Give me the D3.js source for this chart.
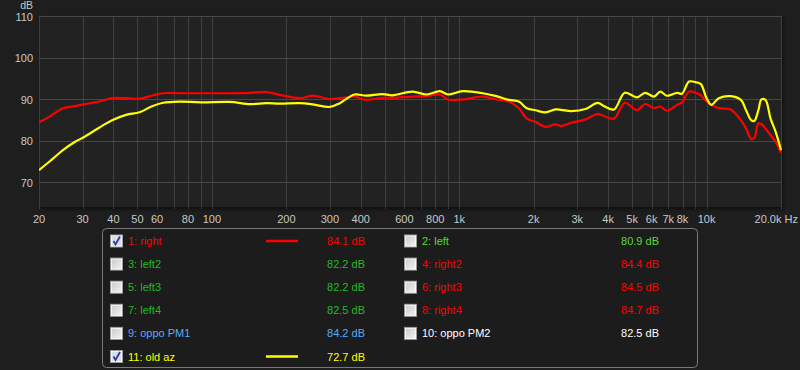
<!DOCTYPE html>
<html>
<head>
<meta charset="utf-8">
<script src="https://cdn.jsdelivr.net/npm/d3@7"></script>
<style>
  html, body { margin: 0; padding: 0; background: #1e1e1e; }
  svg { display: block; font-family: "Liberation Sans", Arial, sans-serif; }
</style>
</head>
<body>
<svg id="chart" width="800" height="370"></svg>
<script>
// frequency points (Hz)
const freqs = [20, 22, 25, 28, 30.3, 35, 39.5, 45, 51, 57, 63.5, 74, 90, 118, 143, 166, 188, 227, 256, 300,
  329, 377, 420, 489, 537, 648, 738, 835, 899, 1034, 1246, 1413, 1588, 1741, 1876, 2036, 2232, 2448, 2590,
  2842, 3243, 3631, 3880, 4228, 4670, 5234, 5644, 6136, 6500, 6910, 7602, 7960, 8500, 9100, 9490, 10000,
  10460, 11200, 12510, 13770, 14450, 15150, 15590, 16200, 16670, 17300, 18150, 19030, 20000];

// 1: right (red)
const rightDb = [84.4, 85.7, 87.8, 88.3, 88.7, 89.4, 90.2, 90.2, 90.1, 90.8, 91.4, 91.4, 91.4, 91.4, 91.5, 91.7, 91.0, 90.2, 90.8, 90.0,
  90.2, 90.6, 89.8, 90.3, 90.3, 90.6, 90.7, 91.1, 89.9, 89.9, 90.6, 89.9, 89.4, 87.8, 85.3, 84.5, 83.3, 83.9, 83.5,
  84.3, 85.1, 86.4, 85.8, 85.3, 89.1, 87.3, 88.8, 87.8, 88.2, 87.2, 88.6, 89.2, 91.8, 91.4, 90.9, 89.4,
  88.6, 87.8, 87.5, 84.9, 82.9, 80.4, 80.6, 84.1, 84.0, 82.9, 81.3, 79.7, 77.1];

// 11: old az (yellow)
const oldAzDb = [72.9, 74.9, 77.7, 79.7, 80.8, 83.1, 84.9, 86.2, 86.8, 88.2, 89.1, 89.4, 89.2, 89.3, 88.8, 89.0, 88.9, 89.0, 88.7, 88.1,
  89.0, 91.1, 90.8, 91.2, 90.9, 91.8, 91.1, 91.9, 91.1, 91.9, 91.4, 90.7, 89.8, 89.4, 87.8, 87.3, 86.8, 87.5, 87.4,
  87.1, 87.6, 89.1, 88.2, 87.5, 91.5, 90.4, 91.5, 90.6, 91.8, 90.8, 91.5, 91.3, 94.2, 94.0, 93.6, 90.2,
  88.6, 90.2, 90.7, 89.8, 87.3, 84.9, 84.7, 87.3, 89.9, 89.8, 85.3, 82.1, 77.7];

const xTickLabels = [20, 30, 40, 50, 60, 80, 100, 200, 300, 400, 600, 800, 1000, 2000, 3000, 4000, 5000, 6000, 7000, 8000, 10000, 20000];
const yTicks = [70, 80, 90, 100, 110];

// legend entries
const legendNames = ["1: right", "2: left", "3: left2", "4: right2", "5: left3", "6: right3",
  "7: left4", "8: right4", "9: oppo PM1", "10: oppo PM2", "11: old az"];
const legendValues = ["84.1 dB", "80.9 dB", "82.2 dB", "84.4 dB", "82.2 dB", "84.5 dB",
  "82.5 dB", "84.7 dB", "84.2 dB", "82.5 dB", "72.7 dB"];
const legendColors = ["#ff0000", "#55dd33", "#22bb22", "#ff0000", "#22bb22", "#ff0000",
  "#22bb22", "#ff0000", "#55aaff", "#ffffff", "#ffff00"];
const legendChecked = [true, false, false, false, false, false, false, false, false, false, true];

const svg = d3.select("#chart");
const plot = { left: 39, top: 16, right: 781, bottom: 207 };

const x = d3.scaleLog([20, 20000], [plot.left, plot.right]);
const y = d3.scaleLinear([64, 110], [plot.bottom, plot.top]);

// plot area with a soft shadow
const defs = svg.append("defs");
const sh = defs.append("filter").attr("id", "shadow")
  .attr("x", "-5%").attr("y", "-5%").attr("width", "110%").attr("height", "120%");
sh.append("feDropShadow").attr("dx", 2).attr("dy", 2).attr("stdDeviation", 2)
  .attr("flood-color", "#000").attr("flood-opacity", 0.6);

svg.append("rect")
  .attr("x", plot.left).attr("y", plot.top)
  .attr("width", plot.right - plot.left).attr("height", plot.bottom - plot.top)
  .attr("fill", "#212121")
  .attr("filter", "url(#shadow)");

// grid
const vTicks = x.ticks().filter(d => d >= 20 && d <= 20000);
svg.append("g").selectAll("line").data(vTicks).join("line")
  .attr("x1", d => Math.round(x(d)) + 0.5).attr("x2", d => Math.round(x(d)) + 0.5)
  .attr("y1", plot.top).attr("y2", plot.bottom)
  .attr("stroke", "#3e3e3e").attr("stroke-width", 1);

svg.append("g").selectAll("line").data(yTicks).join("line")
  .attr("x1", plot.left).attr("x2", plot.right)
  .attr("y1", d => Math.round(y(d)) + 0.5).attr("y2", d => Math.round(y(d)) + 0.5)
  .attr("stroke", "#474747").attr("stroke-width", 1);

// small ticks under the plot
svg.append("g").selectAll("line").data(vTicks).join("line")
  .attr("x1", d => Math.round(x(d)) + 0.5).attr("x2", d => Math.round(x(d)) + 0.5)
  .attr("y1", plot.bottom).attr("y2", plot.bottom + 2)
  .attr("stroke", "#3a3a3a");

// y labels
svg.append("g").selectAll("text").data(yTicks).join("text")
  .attr("x", 33).attr("y", d => y(d) + 0.5)
  .attr("text-anchor", "end").attr("dominant-baseline", "central")
  .attr("fill", "#c8c8c8").attr("font-size", 11)
  .text(d => d);

svg.append("text")
  .attr("x", 33).attr("y", 9)
  .attr("text-anchor", "end")
  .attr("fill", "#c8c8c8").attr("font-size", 10.5)
  .text("dB");

// x labels
const fmt = d => d === 20000 ? "20.0k Hz" : (d >= 1000 ? (d / 1000) + "k" : d);
svg.append("g").selectAll("text").data(xTickLabels).join("text")
  .attr("x", d => d === 20000 ? 798 : x(d))
  .attr("y", 219)
  .attr("text-anchor", d => d === 20000 ? "end" : "middle")
  .attr("dominant-baseline", "central")
  .attr("fill", "#c8c8c8").attr("font-size", 11)
  .text(fmt);

// curves
const line = d3.line()
  .x(d => x(d[0]))
  .y(d => y(d[1]))
  .curve(d3.curveCatmullRom.alpha(0.5));

const clip = defs.append("clipPath").attr("id", "clip");
clip.append("rect").attr("x", plot.left).attr("y", plot.top)
  .attr("width", plot.right - plot.left + 1).attr("height", plot.bottom - plot.top);

const curves = svg.append("g").attr("clip-path", "url(#clip)");
curves.append("path")
  .attr("d", line(freqs.map((f, i) => [f, rightDb[i]])))
  .attr("fill", "none").attr("stroke", "#ff0000").attr("stroke-width", 2.2)
  .attr("stroke-linejoin", "round");
curves.append("path")
  .attr("d", line(freqs.map((f, i) => [f, oldAzDb[i]])))
  .attr("fill", "none").attr("stroke", "#ffff00").attr("stroke-width", 2.2)
  .attr("stroke-linejoin", "round");

// legend box
svg.append("rect")
  .attr("x", 102.5).attr("y", 228.5).attr("width", 595).attr("height", 139)
  .attr("rx", 4).attr("ry", 4)
  .attr("fill", "#1c1c1c").attr("stroke", "#7a7a7a").attr("stroke-width", 1);

const grad = defs.append("linearGradient").attr("id", "cbox")
  .attr("x1", 0).attr("y1", 0).attr("x2", 1).attr("y2", 1);
grad.append("stop").attr("offset", "0%").attr("stop-color", "#c8c8c8");
grad.append("stop").attr("offset", "100%").attr("stop-color", "#f4f4f4");

const rowY = i => 240.5 + Math.floor(i / 2) * 23.1;
const colX = i => i % 2 === 0 ? 110 : 404;

const items = svg.append("g").selectAll("g").data(legendNames).join("g")
  .attr("transform", (d, i) => `translate(${colX(i)},${rowY(i)})`);

items.append("rect")
  .attr("x", 0.5).attr("y", -5.5).attr("width", 12).attr("height", 12)
  .attr("fill", (d, i) => legendChecked[i] ? "#d8dde8" : "url(#cbox)")
  .attr("stroke", "#9a9a9a");
items.append("rect")
  .attr("x", 1.5).attr("y", -4.5).attr("width", 10).attr("height", 10)
  .attr("fill", "none").attr("stroke", "#ffffff").attr("stroke-opacity", 0.7);

items.filter((d, i) => legendChecked[i]).append("path")
  .attr("d", "M3.5,0.5 L5.5,4 L10,-4")
  .attr("fill", "none").attr("stroke", "#2a3f9a").attr("stroke-width", 1.8);

items.append("text")
  .attr("x", 18).attr("y", 0.5)
  .attr("dominant-baseline", "central")
  .attr("font-size", 11)
  .attr("fill", (d, i) => legendColors[i])
  .text(d => d);

items.append("text")
  .attr("x", 255).attr("y", 0.5)
  .attr("text-anchor", "end")
  .attr("dominant-baseline", "central")
  .attr("font-size", 11)
  .attr("fill", (d, i) => legendColors[i])
  .text((d, i) => legendValues[i]);

items.filter((d, i) => legendChecked[i]).append("line")
  .attr("x1", 156).attr("x2", 188).attr("y1", 0.5).attr("y2", 0.5)
  .attr("stroke", (d) => legendColors[legendNames.indexOf(d)])
  .attr("stroke-width", 2.5);
</script>
</body>
</html>
